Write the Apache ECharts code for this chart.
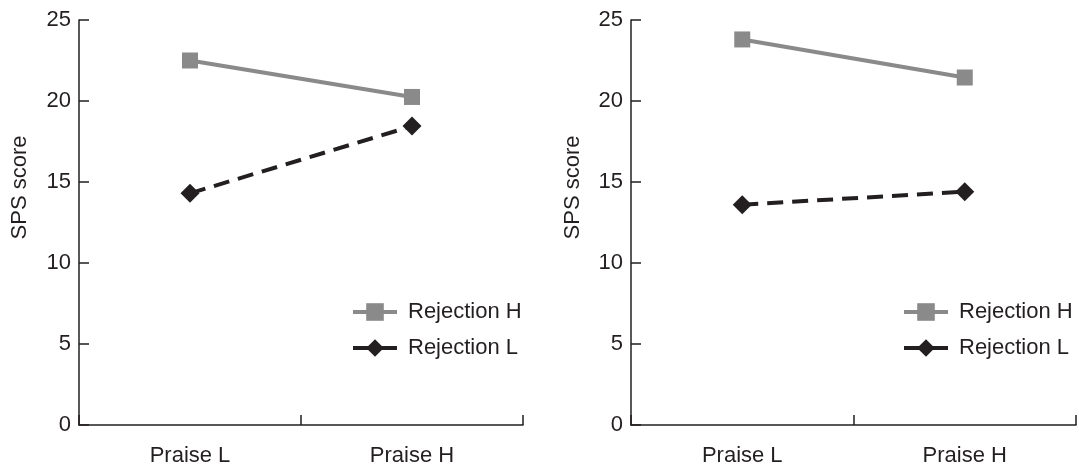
<!DOCTYPE html>
<html>
<head>
<meta charset="utf-8">
<script src="https://cdn.jsdelivr.net/npm/echarts@6/dist/echarts.min.js"></script>
<style>
html,body{margin:0;padding:0;background:#fff;}
#c{width:1079px;height:467px;}
</style>
</head>
<body>
<div id="c"></div>
<script>
var categories = ['Praise L', 'Praise H'];
var seriesNames = ['Rejection H', 'Rejection L'];
var leftRejH = [22.5, 20.25];
var leftRejL = [14.3, 18.45];
var rightRejH = [23.8, 21.45];
var rightRejL = [13.6, 14.4];
var yTicks = [0, 5, 10, 15, 20, 25];

var INK = '#231f20';
var GRAY = '#8a8a8a';
var FONT = 'Liberation Sans, Arial, Helvetica, sans-serif';

var chart = echarts.init(document.getElementById('c'));

function xAxis(idx) {
  return {
    type: 'category', gridIndex: idx, data: categories, boundaryGap: true,
    axisLine: {lineStyle: {color: INK, width: 1.5}},
    axisTick: {show: true, inside: true, length: 10, lineStyle: {color: INK, width: 1.5}},
    axisLabel: {color: INK, fontSize: 22, fontFamily: FONT, margin: 20}
  };
}
function yAxis(idx, gap) {
  return {
    type: 'value', gridIndex: idx, min: 0, max: 25, interval: 5,
    name: 'SPS score', nameLocation: 'middle', nameGap: gap, nameRotate: 90,
    nameTextStyle: {color: INK, fontSize: 22, fontFamily: FONT, padding: [0, 0, 0, 70]},
    axisLine: {show: true, lineStyle: {color: INK, width: 1.5}},
    axisTick: {show: true, inside: true, length: 10, lineStyle: {color: INK, width: 1.5}},
    splitLine: {show: false},
    axisLabel: {color: INK, fontSize: 22, fontFamily: FONT, margin: 8,
      formatter: function (v) { return yTicks.indexOf(v) >= 0 ? String(v) : ''; }}
  };
}
function sH(idx, data) {
  return {
    name: seriesNames[0], type: 'line', xAxisIndex: idx, yAxisIndex: idx, data: data,
    symbol: 'rect', symbolSize: 16, color: GRAY,
    lineStyle: {color: GRAY, width: 4}, itemStyle: {color: GRAY},
    animation: false
  };
}
function sL(idx, data) {
  return {
    name: seriesNames[1], type: 'line', xAxisIndex: idx, yAxisIndex: idx, data: data,
    symbol: 'diamond', symbolSize: 19, color: INK,
    lineStyle: {color: INK, width: 4, type: [16, 9]}, itemStyle: {color: INK},
    animation: false
  };
}
function legend(left) {
  return {
    orient: 'vertical', left: left, top: 296, itemWidth: 44, itemHeight: 22, itemGap: 14,
    data: seriesNames,
    lineStyle: {type: 'solid', width: 4},
    textStyle: {color: INK, fontSize: 22, fontFamily: FONT, lineHeight: 22, padding: [0, 0, 0, 6]}
  };
}

chart.setOption({
  backgroundColor: '#fff',
  animation: false,
  grid: [
    {left: 79, top: 20, width: 444, bottom: 42},
    {left: 631, top: 20, width: 445, bottom: 42}
  ],
  xAxis: [xAxis(0), xAxis(1)],
  yAxis: [yAxis(0, 48), yAxis(1, 47)],
  legend: [legend(346), legend(897)],
  series: [sH(0, leftRejH), sL(0, leftRejL), sH(1, rightRejH), sL(1, rightRejL)]
});
</script>
</body>
</html>
